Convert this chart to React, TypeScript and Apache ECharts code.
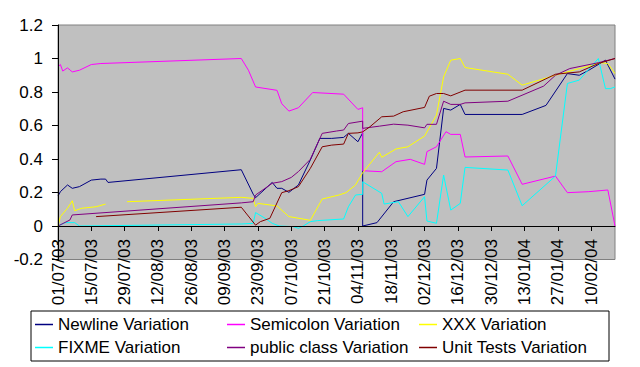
import React, { useEffect, useRef } from "react";
import * as echarts from "echarts";

const axisStart = "01/07/03";
const axisEnd = "20/02/04";
const tickDays = 14;
const yTicks = { min: -0.2, max: 1.2, step: 0.2 };

const seriesNames = [
  "Newline Variation",
  "Semicolon Variation",
  "XXX Variation",
  "FIXME Variation",
  "public class Variation",
  "Unit Tests Variation",
];
const seriesColors = ["#000080", "#FF00FF", "#FFFF00", "#00FFFF", "#800080", "#800000"];

const newlineDates = [
  "01/07/03", "02/07/03", "05/07/03", "07/07/03", "10/07/03", "15/07/03", "19/07/03", "21/07/03", "22/07/03",
  "16/09/03", "21/09/03", "22/09/03", "29/09/03", "01/10/03", "03/10/03", "06/10/03", "10/10/03", "15/10/03",
  "19/10/03", "24/10/03", "29/10/03", "31/10/03", "04/11/03", "06/11/03", "06/11/03", "12/11/03", "19/11/03",
  "02/12/03", "03/12/03", "07/12/03", "10/12/03", "13/12/03", "17/12/03", "19/12/03", "12/01/04", "22/01/04",
  "31/01/04", "05/02/04", "09/02/04", "16/02/04", "20/02/04",
];
const newlineValues = [
  0.179, 0.205, 0.245, 0.225, 0.235, 0.274, 0.28, 0.28, 0.26,
  0.336, 0.19, 0.169, 0.26, 0.225, 0.225, 0.201, 0.245, 0.394,
  0.523, 0.523, 0.529, 0.553, 0.503, 0.556, 0, 0.02, 0.145,
  0.189, 0.274, 0.344, 0.702, 0.692, 0.726, 0.666, 0.666, 0.72,
  0.91, 0.9, 0.93, 0.99, 0.877,
];

const semicolonDates = [
  "01/07/03", "02/07/03", "03/07/03", "05/07/03", "07/07/03", "10/07/03", "15/07/03", "19/07/03", "16/09/03",
  "19/09/03", "22/09/03", "01/10/03", "03/10/03", "06/10/03", "10/10/03", "16/10/03", "29/10/03", "04/11/03",
  "06/11/03", "06/11/03", "14/11/03", "20/11/03", "26/11/03", "02/12/03", "03/12/03", "07/12/03", "11/12/03",
  "13/12/03", "17/12/03", "19/12/03", "06/01/04", "12/01/04", "26/01/04", "31/01/04", "09/02/04", "17/02/04",
  "20/02/04",
];
const semicolonValues = [
  0.95, 0.964, 0.925, 0.944, 0.92, 0.93, 0.964, 0.97, 1.0,
  0.93, 0.83, 0.81, 0.73, 0.686, 0.706, 0.797, 0.787, 0.696,
  0.706, 0.33, 0.324, 0.384, 0.398, 0.368, 0.444, 0.473, 0.563,
  0.547, 0.547, 0.412, 0.418, 0.249, 0.298, 0.199, 0.205, 0.215,
  0,
];

const xxxDates = [
  "01/07/03", "02/07/03", "05/07/03", "07/07/03", "08/07/03", "11/07/03", "17/07/03", "21/07/03", "25/07/03",
  "30/07/03", "16/09/03", "21/09/03", "22/09/03", "23/09/03", "01/10/03", "06/10/03", "15/10/03", "20/10/03",
  "27/10/03", "30/10/03", "03/11/03", "06/11/03", "13/11/03", "14/11/03", "20/11/03", "25/11/03", "02/12/03",
  "07/12/03", "10/12/03", "13/12/03", "17/12/03", "19/12/03", "06/01/04", "12/01/04", "26/01/04", "05/02/04",
  "14/02/04", "17/02/04", "20/02/04",
];
const xxxValues: (number | null)[] = [
  0, 0.056, 0.106, 0.151, 0.091, 0.106, 0.115, 0.131, null,
  0.145, 0.171, 0.165, 0.115, 0.135, 0.12, 0.056, 0.034, 0.161,
  0.185, 0.199, 0.245, 0.318, 0.44, 0.41, 0.46, 0.473, 0.537,
  0.662, 0.89, 0.99, 1.0, 0.946, 0.906, 0.841, 0.9, 0.94,
  0.975, 0.97, 0.91,
];

const fixmeDates = [
  "01/07/03", "04/07/03", "08/07/03", "10/07/03", "16/09/03", "21/09/03", "22/09/03", "26/09/03", "29/09/03",
  "02/10/03", "08/10/03", "10/10/03", "12/10/03", "15/10/03", "18/10/03", "29/10/03", "31/10/03", "03/11/03",
  "06/11/03", "06/11/03", "14/11/03", "15/11/03", "21/11/03", "25/11/03", "02/12/03", "03/12/03", "07/12/03",
  "10/12/03", "13/12/03", "17/12/03", "19/12/03", "06/01/04", "12/01/04", "26/01/04", "31/01/04", "05/02/04",
  "13/02/04", "16/02/04", "18/02/04", "20/02/04",
];
const fixmeValues = [
  0, 0.02, 0.02, 0, 0.012, 0.016, 0.08, 0.046, 0.016,
  0, -0.004, -0.014, 0, 0.026, 0.032, 0.042, 0.115, 0.185,
  0.189, 0.264, 0.195, 0.131, 0.145, 0.056, 0.175, 0.03, 0.016,
  0.304, 0.095, 0.135, 0.35, 0.334, 0.121, 0.298, 0.851, 0.871,
  1.0, 0.82, 0.82, 0.83,
];

const publicClassDates = [
  "01/07/03", "06/07/03", "07/07/03", "16/09/03", "21/09/03", "22/09/03", "29/09/03", "03/10/03", "07/10/03",
  "10/10/03", "15/10/03", "20/10/03", "26/10/03", "29/10/03", "31/10/03", "06/11/03", "06/11/03", "13/11/03",
  "19/11/03", "25/11/03", "02/12/03", "03/12/03", "07/12/03", "10/12/03", "13/12/03", "17/12/03", "19/12/03",
  "06/01/04", "21/01/04", "26/01/04", "01/02/04", "13/02/04", "20/02/04",
];
const publicClassValues = [
  0, 0.036, 0.066, 0.138, 0.145, 0.185, 0.255, 0.265, 0.29,
  0.325, 0.398, 0.553, 0.567, 0.573, 0.612, 0.626, 0.583, 0.596,
  0.608, 0.602, 0.586, 0.607, 0.607, 0.745, 0.726, 0.726, 0.735,
  0.745, 0.835, 0.9, 0.94, 0.975, 1.0,
];

const unitTestsDates = [
  "17/07/03", "16/09/03", "22/09/03", "24/09/03", "28/09/03", "03/10/03", "06/10/03", "10/10/03", "15/10/03",
  "20/10/03", "24/10/03", "29/10/03", "31/10/03", "04/11/03", "06/11/03", "09/11/03", "14/11/03", "19/11/03",
  "23/11/03", "02/12/03", "04/12/03", "07/12/03", "10/12/03", "13/12/03", "19/12/03", "12/01/04", "26/01/04",
  "05/02/04", "13/02/04", "20/02/04",
];
const unitTestsValues = [
  0.056, 0.112, 0.005, 0.026, 0.046, 0.199, 0.211, 0.235, 0.344,
  0.473, 0.483, 0.489, 0.553, 0.556, 0.562, 0.592, 0.652, 0.656,
  0.682, 0.708, 0.775, 0.791, 0.791, 0.777, 0.811, 0.811, 0.906,
  0.92, 0.97, 1.0,
];

const DAY_MS = 86400000;
function parseDate(s: string): number {
  const [d, m, y] = s.split("/").map(Number);
  return Date.UTC(2000 + y, m - 1, d);
}
const START = parseDate(axisStart);
function toDay(s: string): number {
  return Math.round((parseDate(s) - START) / DAY_MS);
}
function pad(n: number) {
  return (n < 10 ? "0" : "") + n;
}
function dayLabel(v: number): string {
  const dt = new Date(START + Math.round(v) * DAY_MS);
  return pad(dt.getUTCDate()) + "/" + pad(dt.getUTCMonth() + 1) + "/" + pad(dt.getUTCFullYear() % 100);
}

const allDates = [newlineDates, semicolonDates, xxxDates, fixmeDates, publicClassDates, unitTestsDates];
const allValues: (number | null)[][] = [
  newlineValues, semicolonValues, xxxValues, fixmeValues, publicClassValues, unitTestsValues,
];

const FONT = "'Liberation Sans', Arial, sans-serif";
const GRID_TOP = 25;
const GRID_HEIGHT = 234.5;
// shift of the x axis from the plot bottom up to the zero line
const ZERO_SHIFT = -(GRID_HEIGHT * (0 - yTicks.min)) / (yTicks.max - yTicks.min);

export default function App() {
  const ref = useRef<HTMLDivElement>(null);
  useEffect(() => {
    if (!ref.current) return;
    const chart = echarts.init(ref.current, null, { renderer: "svg" });
    const series = seriesNames.map((name, k) => ({
      name,
      type: "line",
      z: 2,
      showSymbol: false,
      symbol: "none",
      color: seriesColors[k],
      lineStyle: { width: 1, color: seriesColors[k] },
      connectNulls: false,
      data: allDates[k].map((d, i) => [toDay(d), allValues[k][i] === null ? "-" : allValues[k][i]]),
    }));
    chart.setOption({
      animation: false,
      backgroundColor: "#ffffff",
      textStyle: { fontFamily: FONT },
      grid: {
        left: 58,
        right: 25,
        top: GRID_TOP,
        height: GRID_HEIGHT,
        show: true,
        z: 0,
        backgroundColor: "#C0C0C0",
        borderColor: "#808080",
        borderWidth: 1,
        outerBoundsMode: "none",
        containLabel: false,
      },
      legend: {
        data: seriesNames,
        left: 31,
        top: 311,
        width: 580,
        orient: "horizontal",
        padding: [5, 4, 5, 4],
        itemGap: 6,
        itemWidth: 18,
        itemHeight: 1.5,
        icon: "rect",
        borderColor: "#000000",
        borderWidth: 1,
        backgroundColor: "#ffffff",
        textStyle: {
          fontFamily: FONT,
          fontSize: 17,
          color: "#000000",
          width: 163,
          lineHeight: 17,
        },
      },
      xAxis: {
        type: "value",
        z: 5,
        min: 0,
        max: toDay(axisEnd),
        interval: tickDays,
        offset: ZERO_SHIFT,
        splitLine: { show: false },
        axisLine: { show: true, onZero: false, lineStyle: { color: "#000000", width: 1 } },
        axisTick: { show: true, inside: false, length: 5, lineStyle: { color: "#000000" } },
        axisLabel: {
          rotate: 90,
          margin: 13,
          hideOverlap: false,
          fontSize: 17,
          fontFamily: FONT,
          color: "#000000",
          showMaxLabel: false,
          formatter: (v: number) => dayLabel(v),
        },
      },
      yAxis: {
        type: "value",
        z: 5,
        min: yTicks.min,
        max: yTicks.max,
        interval: yTicks.step,
        splitLine: { show: false },
        axisLine: { show: true, onZero: false, lineStyle: { color: "#000000", width: 1 } },
        axisTick: { show: true, inside: false, length: 6, lineStyle: { color: "#000000" } },
        axisLabel: {
          margin: 15,
          fontSize: 17,
          fontFamily: FONT,
          color: "#000000",
          formatter: (v: number) => String(Math.round(v * 10) / 10),
        },
      },
      series,
    });
    return () => chart.dispose();
  }, []);
  return (
    <div
      ref={ref}
      style={{ position: "fixed", left: 0, top: 0, width: 640, height: 367, background: "#fff" }}
    />
  );
}
